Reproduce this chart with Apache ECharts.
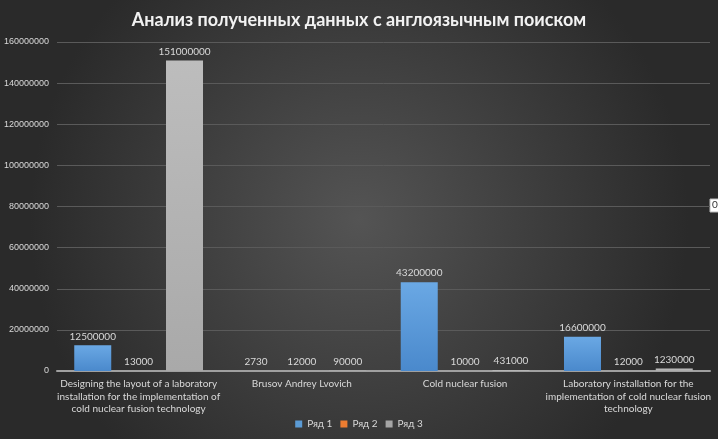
<!DOCTYPE html>
<html><head><meta charset="utf-8">
<script src="https://cdn.jsdelivr.net/npm/echarts@6/dist/echarts.min.js"></script>
<style>html,body{margin:0;padding:0;}#c{width:718px;height:439px;}</style>
</head><body><div id="c"></div>
<script>
const categories = [
  "Designing the layout of a laboratory\ninstallation for the implementation of\ncold nuclear fusion technology",
  "Brusov Andrey Lvovich",
  "Cold nuclear fusion",
  "Laboratory installation for the\nimplementation of cold nuclear fusion\ntechnology"
];
const seriesNames = ["Ряд 1", "Ряд 2", "Ряд 3"];
const row1 = [12500000, 2730, 43200000, 16600000];
const row2 = [13000, 12000, 10000, 12000];
const row3 = [151000000, 90000, 431000, 1230000];
const titleText = "Анализ полученных данных с англоязычным поиском";

const font = "Lato, 'Open Sans', sans-serif";
const yfont = "'Liberation Sans', Arial, sans-serif";
const txt = '#d9d9d9';
function grad(top, bottom){
  return new echarts.graphic.LinearGradient(0,0,0,1,[{offset:0,color:top},{offset:1,color:bottom}]);
}
const colors = [grad('#6aa8e4','#4a89cc'), grad('#f08a45','#d96c25'), grad('#bdbdbd','#a9a9a9')];
const legendColors = ['#5b9bd5','#ed7d31','#a5a5a5'];
const data = [row1,row2,row3];

const chart = echarts.init(document.getElementById('c'));
chart.setOption({
  backgroundColor: new echarts.graphic.RadialGradient(0.5,0.5,0.75,[{offset:0,color:'#545454'},{offset:1,color:'#2a2a2a'}]),
  textStyle:{fontFamily:font},
  title:{text:titleText,left:'center',top:6,textStyle:{color:'#f2f2f2',fontSize:18,fontWeight:'bold',fontFamily:font}},
  legend:{bottom:5,left:'center',itemWidth:7,itemHeight:7,itemGap:8,icon:'rect',
    textStyle:{color:txt,fontSize:10,fontFamily:font},
    data:seriesNames.map((n,i)=>({name:n,itemStyle:{color:legendColors[i]}}))},
  grid:{left:57,right:8,top:42,bottom:68,containLabel:false,outerBoundsMode:'none'},
  xAxis:{type:'category',data:categories,
    axisLine:{lineStyle:{color:'#a0a0a0',width:2}},axisTick:{show:false},
    axisLabel:{color:txt,fontSize:10,lineHeight:12.5,interval:0,margin:7,fontFamily:font}},
  yAxis:{type:'value',min:0,max:160000000,interval:20000000,
    axisLine:{show:false},axisTick:{show:false},
    splitLine:{lineStyle:{color:'#5a5a5a',width:1}},
    axisLabel:{color:txt,fontSize:9,margin:8,fontFamily:yfont,formatter:v=>String(v)}},
  series: seriesNames.map((n,i)=>({
    name:n,type:'bar',data:data[i],barWidth:37,barGap:'24%',
    itemStyle:{color:colors[i]},
    label:{show:true,position:'top',color:txt,fontSize:10,distance:4,fontFamily:font}
  })),
  graphic:[
    {type:'rect',shape:{x:710,y:199,width:10,height:13},style:{fill:'#ffffff',stroke:'#bbbbbb',lineWidth:1}},
    {type:'text',x:712,y:200,style:{text:'0',fill:'#333',fontSize:10,fontFamily:font}}
  ]
});
</script></body></html>
